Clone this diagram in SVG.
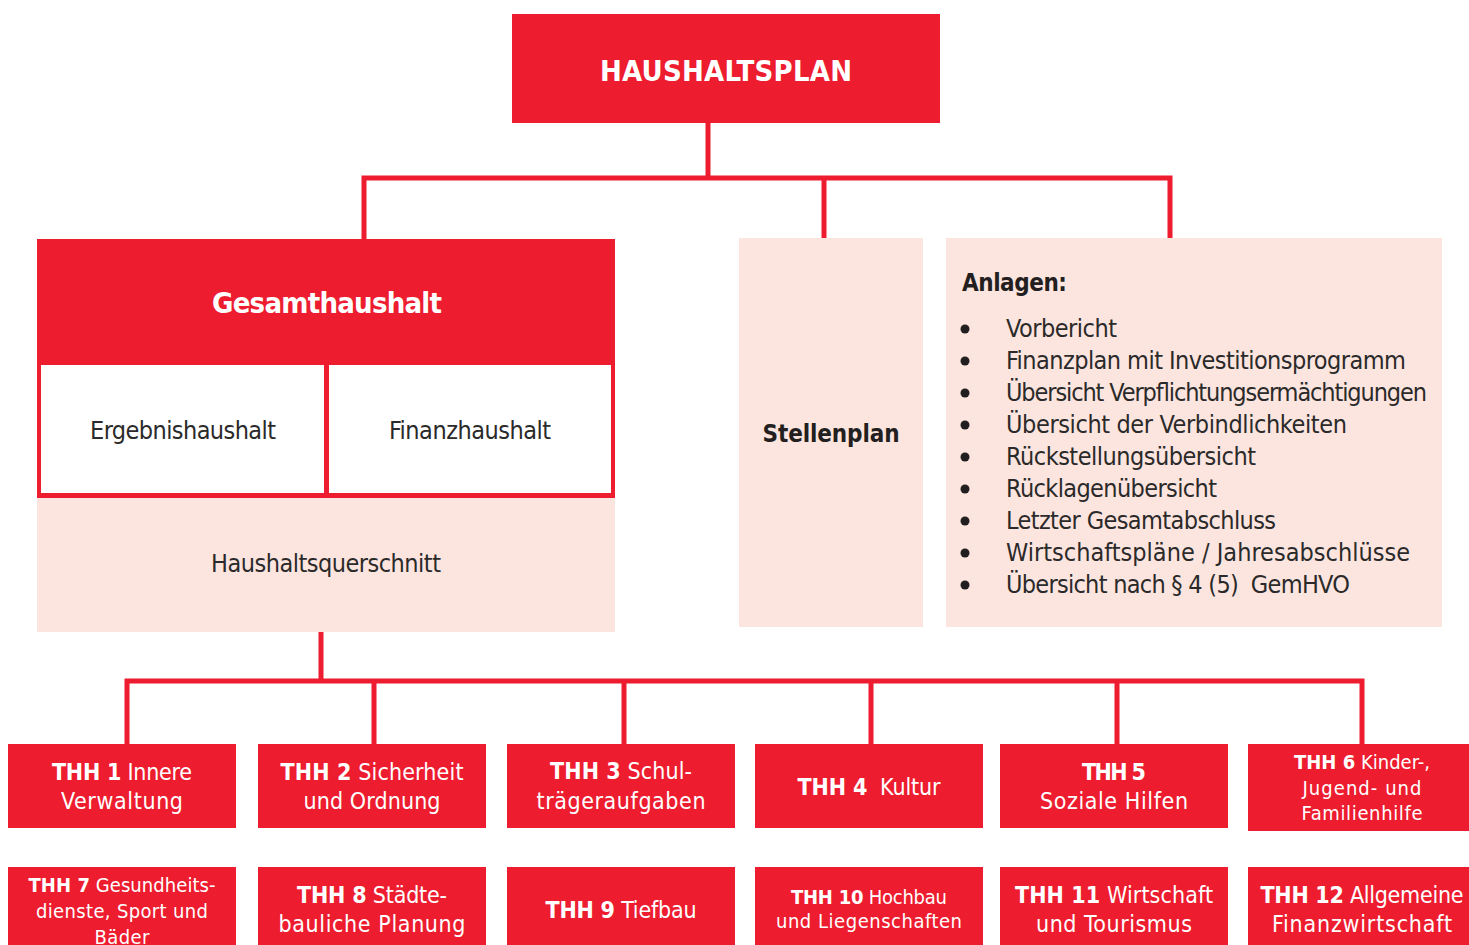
<svg xmlns="http://www.w3.org/2000/svg" width="1469" height="945" viewBox="0 0 1469 945">
<style>
.red{fill:#ED1C2E}
.pink{fill:#FDE5DF}
.wh{fill:#FFFFFF}
.con{fill:none;stroke:#ED1C2E;stroke-width:5;stroke-linejoin:miter}
text{font-family:"Liberation Sans Narrow","DejaVu Sans Condensed","Liberation Sans",sans-serif}
.t{fill:#FFFFFF;font-size:23px;text-anchor:middle}
.ts{fill:#FFFFFF;font-size:20px;text-anchor:middle}
.b{font-weight:bold}
.dk{fill:#231F20}
.lt{font-size:25px;fill:#2B2A2A}
</style>
<rect width="1469" height="945" fill="#FFFFFF"/>
<g id="connectors">
<path class="con" d="M708 123 V178"/>
<path class="con" d="M364 239 V178 H1170 V239"/>
<path class="con" d="M824 178 V238"/>
<path class="con" d="M321 632 V681"/>
<path class="con" d="M127 744 V681 H1362 V744"/>
<path class="con" d="M374 681 V744 M624 681 V744 M871 681 V744 M1117 681 V744"/>
</g>
<g id="haushaltsplan">
<rect class="red" x="512" y="14" width="428" height="109"/>
<text x="726" y="81" class="b" fill="#FFFFFF" font-size="29" text-anchor="middle" textLength="252" lengthAdjust="spacing">HAUSHALTSPLAN</text>
</g>
<g id="gesamthaushalt">
<rect class="red" x="37" y="239" width="578" height="259"/>
<rect class="wh" x="41" y="365" width="283" height="128"/>
<rect class="wh" x="329" y="365" width="282" height="128"/>
<rect class="pink" x="37" y="498" width="578" height="134"/>
<text x="327" y="313" class="b" fill="#FFFFFF" font-size="29" text-anchor="middle" textLength="230" lengthAdjust="spacing">Gesamthaushalt</text>
<text x="183" y="439" class="lt" text-anchor="middle" textLength="186" lengthAdjust="spacing">Ergebnishaushalt</text>
<text x="470" y="439" class="lt" text-anchor="middle" textLength="162" lengthAdjust="spacing">Finanzhaushalt</text>
<text x="326" y="572" class="lt" text-anchor="middle" textLength="230" lengthAdjust="spacing">Haushaltsquerschnitt</text>
</g>
<g id="stellenplan">
<rect class="pink" x="739" y="238" width="184" height="389"/>
<text x="831" y="442" class="b dk" font-size="24" text-anchor="middle" textLength="137" lengthAdjust="spacing">Stellenplan</text>
</g>
<g id="anlagen">
<rect class="pink" x="946" y="238" width="496" height="389"/>
<text x="962" y="291" class="b dk" font-size="24" textLength="105" lengthAdjust="spacing">Anlagen:</text>
<g class="dk">
<circle cx="965" cy="329" r="4.5"/><circle cx="965" cy="361" r="4.5"/><circle cx="965" cy="393" r="4.5"/>
<circle cx="965" cy="425" r="4.5"/><circle cx="965" cy="457" r="4.5"/><circle cx="965" cy="489" r="4.5"/>
<circle cx="965" cy="521" r="4.5"/><circle cx="965" cy="553" r="4.5"/><circle cx="965" cy="585" r="4.5"/>
</g>
<text x="1006" y="337" class="lt" textLength="111" lengthAdjust="spacing">Vorbericht</text>
<text x="1006" y="369" class="lt" textLength="400" lengthAdjust="spacing">Finanzplan mit Investitionsprogramm</text>
<text x="1006" y="401" class="lt" textLength="421" lengthAdjust="spacing">Übersicht Verpflichtungsermächtigungen</text>
<text x="1006" y="433" class="lt" textLength="341" lengthAdjust="spacing">Übersicht der Verbindlichkeiten</text>
<text x="1006" y="465" class="lt" textLength="250" lengthAdjust="spacing">Rückstellungsübersicht</text>
<text x="1006" y="497" class="lt" textLength="211" lengthAdjust="spacing">Rücklagenübersicht</text>
<text x="1006" y="529" class="lt" textLength="270" lengthAdjust="spacing">Letzter Gesamtabschluss</text>
<text x="1006" y="561" class="lt" textLength="404" lengthAdjust="spacing">Wirtschaftspläne / Jahresabschlüsse</text>
<text x="1006" y="593" class="lt" textLength="344" lengthAdjust="spacing" xml:space="preserve">Übersicht nach § 4 (5)  GemHVO</text>
</g>
<g id="thh1">
<rect class="red" x="8" y="744" width="228" height="84"/>
<text x="122" y="780" class="t" textLength="140" lengthAdjust="spacing"><tspan class="b">THH 1</tspan> Innere</text>
<text x="122" y="809" class="t" textLength="122" lengthAdjust="spacing">Verwaltung</text>
</g>
<g id="thh2">
<rect class="red" x="258" y="744" width="228" height="84"/>
<text x="372" y="780" class="t" textLength="183" lengthAdjust="spacing"><tspan class="b">THH 2</tspan> Sicherheit</text>
<text x="372" y="809" class="t" textLength="137" lengthAdjust="spacing">und Ordnung</text>
</g>
<g id="thh3">
<rect class="red" x="507" y="744" width="228" height="84"/>
<text x="621" y="779" class="t" textLength="142" lengthAdjust="spacing"><tspan class="b">THH 3</tspan> Schul-</text>
<text x="621" y="809" class="t" textLength="169" lengthAdjust="spacing">trägeraufgaben</text>
</g>
<g id="thh4">
<rect class="red" x="755" y="744" width="228" height="84"/>
<text x="869" y="795" class="t" textLength="143" lengthAdjust="spacing" xml:space="preserve"><tspan class="b">THH 4</tspan>  Kultur</text>
</g>
<g id="thh5">
<rect class="red" x="1000" y="744" width="228" height="84"/>
<text x="1114" y="780" class="t b" textLength="64" lengthAdjust="spacing">THH 5</text>
<text x="1114" y="809" class="t" textLength="148" lengthAdjust="spacing">Soziale Hilfen</text>
</g>
<g id="thh6">
<rect class="red" x="1248" y="744" width="221" height="87"/>
<text x="1362" y="769" class="ts" textLength="136" lengthAdjust="spacing"><tspan class="b">THH 6</tspan> Kinder-,</text>
<text x="1362" y="795" class="ts" textLength="119" lengthAdjust="spacing">Jugend- und</text>
<text x="1362" y="820" class="ts" textLength="121" lengthAdjust="spacing">Familienhilfe</text>
</g>
<g id="thh7">
<rect class="red" x="8" y="867" width="228" height="78"/>
<text x="122" y="892" class="ts" textLength="187" lengthAdjust="spacing"><tspan class="b">THH 7</tspan> Gesundheits-</text>
<text x="122" y="918" class="ts" textLength="172" lengthAdjust="spacing">dienste, Sport und</text>
<text x="122" y="944" class="ts" textLength="55" lengthAdjust="spacing">Bäder</text>
</g>
<g id="thh8">
<rect class="red" x="258" y="867" width="228" height="78"/>
<text x="372" y="903" class="t" textLength="150" lengthAdjust="spacing"><tspan class="b">THH 8</tspan> Städte-</text>
<text x="372" y="932" class="t" textLength="187" lengthAdjust="spacing">bauliche Planung</text>
</g>
<g id="thh9">
<rect class="red" x="507" y="867" width="228" height="78"/>
<text x="621" y="918" class="t" textLength="151" lengthAdjust="spacing"><tspan class="b">THH 9</tspan> Tiefbau</text>
</g>
<g id="thh10">
<rect class="red" x="755" y="867" width="228" height="78"/>
<text x="869" y="904" class="ts" textLength="156" lengthAdjust="spacing"><tspan class="b">THH 10</tspan> Hochbau</text>
<text x="869" y="928" class="ts" textLength="186" lengthAdjust="spacing">und Liegenschaften</text>
</g>
<g id="thh11">
<rect class="red" x="1000" y="867" width="228" height="78"/>
<text x="1114" y="903" class="t" textLength="198" lengthAdjust="spacing"><tspan class="b">THH 11</tspan> Wirtschaft</text>
<text x="1114" y="932" class="t" textLength="156" lengthAdjust="spacing">und Tourismus</text>
</g>
<g id="thh12">
<rect class="red" x="1248" y="867" width="221" height="78"/>
<text x="1362" y="903" class="t" textLength="203" lengthAdjust="spacing"><tspan class="b">THH 12</tspan> Allgemeine</text>
<text x="1362" y="932" class="t" textLength="180" lengthAdjust="spacing">Finanzwirtschaft</text>
</g>
</svg>
